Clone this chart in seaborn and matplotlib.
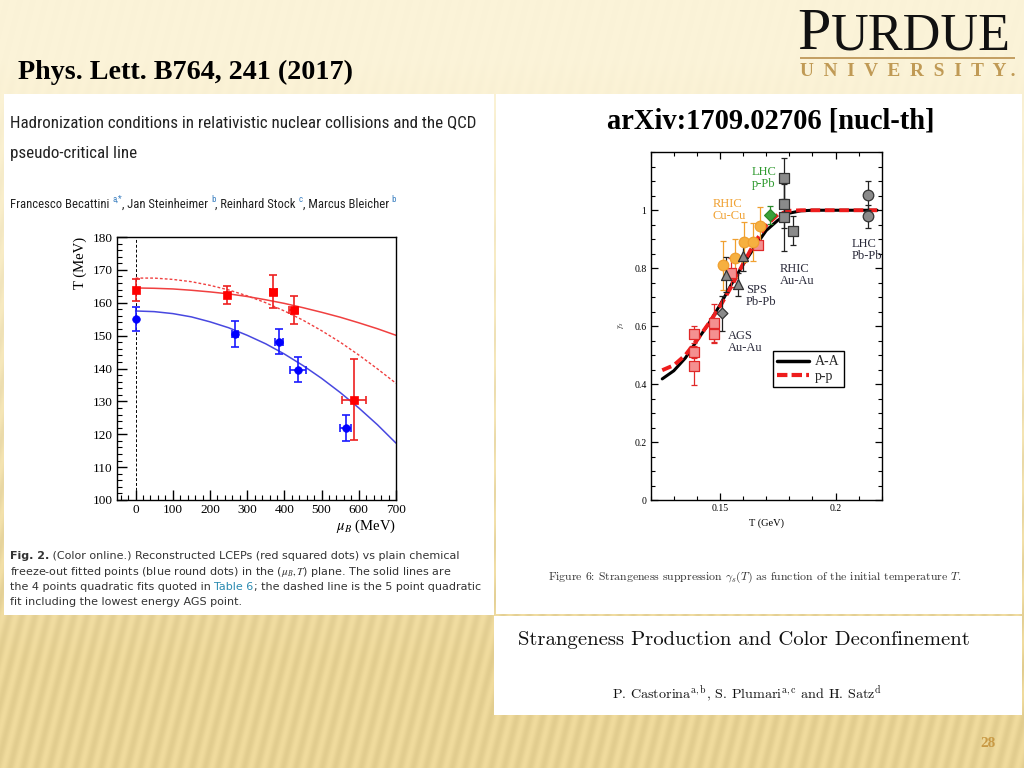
import numpy as np
import matplotlib
matplotlib.use('Agg')
import matplotlib.pyplot as plt
from matplotlib import font_manager
from matplotlib.patches import Rectangle
from matplotlib.lines import Line2D
from matplotlib.ticker import MultipleLocator, FixedLocator, FuncFormatter
import seaborn as sns

# ---------------- left panel : Becattini et al., Fig. 2 ----------------
lcep_mu = [0, 245, 370, 425, 588]
lcep_T = [163.8, 162.3, 163.3, 157.8, 130.5]
lcep_dT = [3.4, 2.8, 5.0, 4.3, 12.4]
lcep_dmu = [0, 0, 10, 12, 32]

cfo_mu = [0, 267, 385, 437, 565]
cfo_T = [155.0, 150.5, 148.2, 139.6, 122.0]
cfo_dT = [3.7, 3.9, 3.9, 3.8, 4.0]
cfo_dmu = [0, 9, 10, 22, 15]

fit_mu = [0, 50, 100, 150, 200, 250, 300, 350, 400, 450, 500, 550, 600, 650, 700]
fit_lcep4 = [164.5, 164.4, 164.2, 163.8, 163.3, 162.7, 161.9, 160.9, 159.8, 158.5, 157.1, 155.6, 153.9, 152.1, 150.1]
fit_lcep5 = [167.5, 167.5, 167.1, 166.4, 165.3, 163.9, 162.1, 160.0, 157.5, 154.7, 151.5, 148.0, 144.1, 139.9, 135.5]
fit_cfo = [157.5, 157.3, 156.7, 155.7, 154.2, 152.4, 150.1, 147.5, 144.4, 140.9, 137.0, 132.7, 128.0, 122.9, 117.3]

# ---------------- right panel : Castorina et al., Fig. 6 ----------------
curve_T = [0.125, 0.130, 0.135, 0.140, 0.145, 0.150, 0.155, 0.160, 0.165, 0.170, 0.175, 0.180, 0.185, 0.190, 0.200, 0.218]
aa_gamma = [0.418, 0.446, 0.490, 0.550, 0.607, 0.673, 0.745, 0.813, 0.873, 0.930, 0.965, 0.990, 0.998, 1.0, 1.0, 1.0]
pp_gamma = [0.448, 0.465, 0.500, 0.552, 0.608, 0.668, 0.738, 0.815, 0.888, 0.948, 0.985, 0.998, 1.0, 1.0, 1.0, 1.0]

pp_T = [0.1388, 0.1388, 0.1386, 0.1472, 0.1472, 0.1547, 0.1664]
pp_g = [0.572, 0.510, 0.462, 0.610, 0.574, 0.785, 0.880]
pp_err = [0.03, 0.02, 0.065, 0.068, 0.03, 0.05, 0.015]

cucu_T = [0.1512, 0.1563, 0.1605, 0.1641, 0.1673]
cucu_g = [0.810, 0.836, 0.891, 0.890, 0.947]
cucu_err = [0.085, 0.065, 0.07, 0.065, 0.065]

ppb_T = [0.1717]
ppb_g = [0.983]
ppb_err = [0.03]

sps_T = [0.1527, 0.1576, 0.1600]
sps_g = [0.778, 0.744, 0.842]
sps_err = [0.06, 0.04, 0.05]

ags_T = [0.1510]
ags_g = [0.644]
ags_err = [0.06]

auau_T = [0.1775, 0.1775, 0.1775, 0.1818]
auau_g = [1.110, 1.020, 0.975, 0.930]
auau_err = [0.07, 0.08, 0.115, 0.05]

pbpb_T = [0.2139, 0.2139]
pbpb_g = [1.052, 0.979]
pbpb_err = [0.05, 0.04]

sns.set_theme(style='ticks')
plt.rcParams['font.family'] = ['Liberation Serif', 'DejaVu Serif']
plt.rcParams['mathtext.fontset'] = 'stix'

W, H = 1024, 768
fig = plt.figure(figsize=(W / 100, H / 100), dpi=100)
renderer = fig.canvas.get_renderer()


def fx(px):
    return px / W


def fy(py):
    return 1 - py / H


def text_w(s, **kw):
    t = fig.text(0, 0, s + 'x', **kw)
    u = fig.text(0, 0, 'x', **kw)
    w = t.get_window_extent(renderer).width - u.get_window_extent(renderer).width
    t.remove()
    u.remove()
    return w


def fit_size(s, width, **kw):
    return 20 * width / text_w(s, fontsize=20, **kw)


def runs(x, y, parts, size, **kw):
    for s, extra in parts:
        p = dict(kw)
        p['fontsize'] = size
        p.update(extra)
        dy = p.pop('dy', 0)
        fig.text(fx(x), fy(y - dy), s, va='baseline', **p)
        x += text_w(s, **p)


names = {f.name for f in font_manager.fontManager.ttflist}
narrow = None
for n in ['Liberation Sans Narrow', 'Roboto Condensed', 'Open Sans Condensed',
          'Noto Sans Condensed', 'DejaVu Sans Condensed']:
    if n in names:
        narrow = {'family': n}
        break
if narrow is None:
    narrow = {'family': 'DejaVu Sans', 'stretch': 'condensed'}

# ---- slide background ----
yy, xx = np.mgrid[0:H, 0:W]
t = np.clip((yy - 60) / 600.0, 0, 1)[..., None]
top = np.array([251, 243, 216]) / 255
bot = np.array([233, 212, 150]) / 255
base = top * (1 - t) + bot * t
stripe = 0.5 + 0.5 * np.cos(2 * np.pi * (xx + 0.25 * yy) / 13.0)
amp = (0.006 + 0.05 * t[..., 0])[..., None]
img = np.clip(base + amp * (stripe[..., None] - 0.5), 0, 1)

bg = fig.add_axes([0, 0, 1, 1], zorder=-5)
bg.imshow(img, extent=[0, W, H, 0], aspect='auto')
bg.set_xlim(0, W)
bg.set_ylim(H, 0)
bg.axis('off')
bg.add_patch(Rectangle((4, 94), 490, 521, fc='white', ec='none'))
bg.add_patch(Rectangle((496, 94), 526, 520, fc='white', ec='none'))
bg.add_patch(Rectangle((494, 616), 528, 99, fc='white', ec='none'))
bg.add_patch(Rectangle((800, 57), 215, 2, fc='#c4a064', ec='none'))

# ---- left plot ----
axL = fig.add_axes([fx(117), fy(500), (396 - 117) / W, (500 - 237) / H])
axL.set_facecolor('white')
axL.axvline(0, color='black', ls=(0, (3, 2)), lw=0.7)
sns.lineplot(x=fit_mu, y=fit_lcep4, ax=axL, color='#f04040', lw=1.1)
sns.lineplot(x=fit_mu, y=fit_lcep5, ax=axL, color='#f04040', lw=1.0, ls=(0, (2, 1.5)))
sns.lineplot(x=fit_mu, y=fit_cfo, ax=axL, color='#4848e0', lw=1.1)
axL.errorbar(lcep_mu, lcep_T, yerr=lcep_dT, xerr=lcep_dmu, fmt='none',
             ecolor='#ee2020', elinewidth=1.2, capsize=3, capthick=1.2, zorder=4)
axL.errorbar(cfo_mu, cfo_T, yerr=cfo_dT, xerr=cfo_dmu, fmt='none',
             ecolor='#1a1aff', elinewidth=1.2, capsize=3, capthick=1.2, zorder=4)
sns.scatterplot(x=lcep_mu, y=lcep_T, ax=axL, marker='s', s=38, color='#ff0000',
                edgecolor='#ff0000', linewidth=0.5, zorder=5)
sns.scatterplot(x=cfo_mu, y=cfo_T, ax=axL, marker='o', s=30, color='#0000ff',
                edgecolor='#0000ff', linewidth=0.5, zorder=5)
axL.set_xlim(-50, 700)
axL.set_ylim(100, 180)
axL.xaxis.set_major_locator(MultipleLocator(100))
axL.xaxis.set_minor_locator(MultipleLocator(20))
axL.yaxis.set_major_locator(MultipleLocator(10))
axL.yaxis.set_minor_locator(MultipleLocator(2))
axL.tick_params(which='both', direction='in', top=False, right=False,
                labelsize=9.5, colors='black', pad=3)
axL.tick_params(which='major', length=7, width=1)
axL.tick_params(which='minor', length=3.5, width=0.8)
for sp in axL.spines.values():
    sp.set_color('black')
    sp.set_linewidth(1)
axL.set_ylabel('T (MeV)', loc='top', fontsize=10.5, labelpad=4, color='black')
axL.set_xlabel(r'$\mu_B$ (MeV)', loc='right', fontsize=10.5, labelpad=1, color='black')

# ---- right plot ----
axR = fig.add_axes([fx(650.7), fy(500), 231 / W, 347.7 / H])
axR.set_facecolor('white')
sns.lineplot(x=curve_T, y=aa_gamma, ax=axR, color='black', lw=2.2, zorder=2)
sns.lineplot(x=curve_T, y=pp_gamma, ax=axR, color='#ee1c1c', lw=2.8,
             ls=(0, (2.5, 1.2)), zorder=2.5)

point_sets = [
    (pp_T, pp_g, pp_err, 's', '#f49090', '#e02828', '#e02828', 44),
    (cucu_T, cucu_g, cucu_err, 'o', '#f6b040', '#f0a030', '#f0a030', 58),
    (ppb_T, ppb_g, ppb_err, 'D', '#3aa03a', '#2a8a2a', '#2a8a2a', 36),
    (sps_T, sps_g, sps_err, '^', '#8a8a8a', '#333333', '#222222', 52),
    (ags_T, ags_g, ags_err, 'D', '#8a8a8a', '#333333', '#222222', 30),
    (auau_T, auau_g, auau_err, 's', '#8a8a8a', '#333333', '#222222', 52),
    (pbpb_T, pbpb_g, pbpb_err, 'o', '#8a8a8a', '#333333', '#222222', 58),
]
for xs, ys, es, mk, fc, ec, erc, sz in point_sets:
    axR.errorbar(xs, ys, yerr=es, fmt='none', ecolor=erc, elinewidth=0.9,
                 capsize=2.5, capthick=0.9, zorder=3)
    sns.scatterplot(x=xs, y=ys, ax=axR, marker=mk, s=sz, color=fc,
                    edgecolor=ec, linewidth=0.9, zorder=4)

axR.set_xlim(0.12, 0.22)
axR.set_ylim(0, 1.2)
axR.xaxis.set_major_locator(FixedLocator([0.15, 0.2]))
axR.xaxis.set_minor_locator(MultipleLocator(0.01))
axR.yaxis.set_major_locator(FixedLocator([0, 0.2, 0.4, 0.6, 0.8, 1.0]))
axR.yaxis.set_minor_locator(MultipleLocator(0.05))
fmt = FuncFormatter(lambda v, p: '%g' % round(v, 3))
axR.xaxis.set_major_formatter(fmt)
axR.yaxis.set_major_formatter(fmt)
axR.tick_params(which='both', direction='in', top=True, right=True,
                labelsize=7, colors='black', pad=3)
axR.tick_params(which='major', length=5, width=0.9)
axR.tick_params(which='minor', length=3, width=0.8)
for sp in axR.spines.values():
    sp.set_color('black')
    sp.set_linewidth(1)
axR.set_xlabel('T (GeV)', fontsize=7.5, labelpad=4, color='black')
axR.text(-0.13, 0.503, r'$\gamma_s$', transform=axR.transAxes, rotation=90,
         fontsize=6, ha='center', va='center')

label_col = '#2a2a3a'
lab = dict(fontsize=9, va='center', linespacing=1.0)
axR.text(0.1639, 1.112, 'LHC\np-Pb', color='#2f9a2f', **lab)
axR.text(0.1468, 1.000, 'RHIC\nCu-Cu', color='#f0a030', **lab)
axR.text(0.1613, 0.703, 'SPS\nPb-Pb', color=label_col, **lab)
axR.text(0.1535, 0.545, 'AGS\nAu-Au', color=label_col, **lab)
axR.text(0.1758, 0.776, 'RHIC\nAu-Au', color=label_col, **lab)
axR.text(0.2072, 0.862, 'LHC\nPb-Pb', color=label_col, **lab)

leg = axR.legend(handles=[Line2D([], [], color='black', lw=2.5),
                          Line2D([], [], color='#ee1c1c', lw=3, ls=(0, (2.5, 1)))],
                 labels=['A-A', 'p-p'], loc='lower left', bbox_to_anchor=(0.53, 0.325),
                 frameon=True, fancybox=False, edgecolor='black', framealpha=1,
                 fontsize=10, handlelength=2.3, borderpad=0.3, labelspacing=0.1,
                 handletextpad=0.4, borderaxespad=0)
leg.get_frame().set_linewidth(1)

# ---- slide texts ----
s = 'Phys. Lett. B764, 241 (2017)'
fig.text(fx(18), fy(79), s, va='baseline', weight='bold', color='black',
         fontsize=fit_size(s, 335, weight='bold'))
s = 'arXiv:1709.02706 [nucl-th]'
fig.text(fx(607), fy(128), s, va='baseline', weight='bold', color='black',
         fontsize=fit_size(s, 328, weight='bold'))

# Purdue logo
pw = text_w('P', fontsize=23) + text_w('URDUE', fontsize=20)
ps = 20 * 213 / pw
runs(797, 49, [('P', {'fontsize': ps * 1.15}), ('URDUE', {})], ps, color='#111111')
s = 'U  N  I  V  E  R  S  I  T  Y .'
fig.text(fx(800), fy(76), s, va='baseline', weight='bold', color='#c09a55',
         fontsize=fit_size(s, 215, weight='bold'))

# left paper header
title1 = 'Hadronization conditions in relativistic nuclear collisions and the QCD'
ts = fit_size(title1, 468, **narrow)
fig.text(fx(10), fy(127), title1, va='baseline', color='#222222', fontsize=ts, **narrow)
fig.text(fx(10), fy(158), 'pseudo-critical line', va='baseline', color='#222222', fontsize=ts, **narrow)

blue = '#3a7fc0'
auth = 'Francesco Becattini a,*, Jan Steinheimer b, Reinhard Stock c, Marcus Bleicher b'
asz = fit_size(auth, 395, **narrow)
sup = {'color': blue, 'fontsize': asz * 0.7, 'dy': 6}
runs(10, 208, [('Francesco Becattini ', {}), ('a,*', sup), (', Jan Steinheimer ', {}), ('b', sup),
               (', Reinhard Stock ', {}), ('c', sup), (', Marcus Bleicher ', {}), ('b', sup)],
     asz, color='#222222', **narrow)

cap1 = 'Fig. 2. (Color online.) Reconstructed LCEPs (red squared dots) vs plain chemical'
cap2 = 'freeze-out fitted points (blue round dots) in the ($\\mu_B,T$) plane. The solid lines are'
cap3 = 'the 4 points quadratic fits quoted in Table 6; the dashed line is the 5 point quadratic'
ck = dict(family='DejaVu Sans', color='#333333')
csz = min(fit_size(c, 468, family='DejaVu Sans') for c in [cap1, cap2, cap3])
runs(10, 559, [('Fig. 2.', {'weight': 'bold'}),
               (' (Color online.) Reconstructed LCEPs (red squared dots) vs plain chemical', {})], csz, **ck)
runs(10, 575, [(cap2, {})], csz, **ck)
runs(10, 590, [('the 4 points quadratic fits quoted in ', {}), ('Table 6', {'color': '#2a8ab0'}),
               ('; the dashed line is the 5 point quadratic', {})], csz, **ck)
runs(10, 605, [('fit including the lowest energy AGS point.', {})], csz, **ck)

# right paper texts
cm = dict(family=['cmr10', 'DejaVu Serif'], math_fontfamily='cm')
s = 'Figure 6: Strangeness suppression $\\gamma_s(T)$ as function of the initial temperature $T$.'
fig.text(fx(548), fy(580), s, va='baseline', color='#333333', fontsize=fit_size(s, 414, **cm), **cm)
s = 'Strangeness Production and Color Deconfinement'
fig.text(fx(518), fy(645), s, va='baseline', color='#111111', fontsize=fit_size(s, 452, **cm), **cm)
s = 'P. Castorina$^{\\mathrm{a,b}}$, S. Plumari$^{\\mathrm{a,c}}$ and H. Satz$^{\\mathrm{d}}$'
fig.text(fx(612), fy(698), s, va='baseline', color='#111111', fontsize=fit_size(s, 270, **cm), **cm)

fig.text(fx(980), fy(747), '28', va='baseline', weight='bold', color='#c99a45', fontsize=11)

fig.savefig('out.png', dpi=100)
